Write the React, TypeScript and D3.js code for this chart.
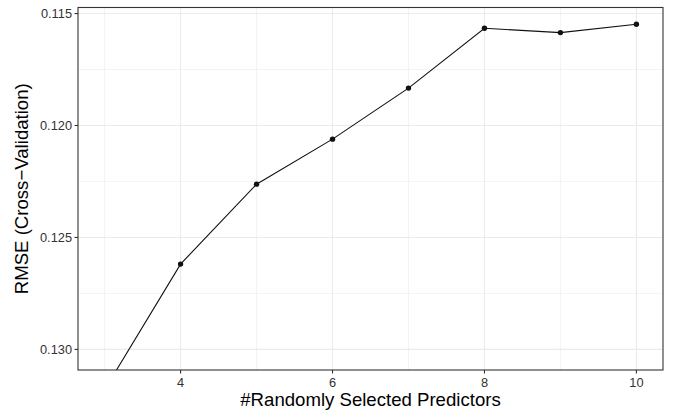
import React from "react";
import * as d3 from "d3";

const predictors = [3, 4, 5, 6, 7, 8, 9, 10];
const rmse = [0.1318, 0.12619, 0.12262, 0.12061, 0.11833, 0.11566, 0.11585, 0.11548];
const xTicks = [4, 6, 8, 10];
const xMinor = [3, 5, 7, 9];
const yTicks = [0.115, 0.12, 0.125, 0.13];
const yMinor = [0.1175, 0.1225, 0.1275];

const W = 674;
const H = 413;
const M = { left: 78, right: 11, top: 7.5, bottom: 43 };
const FONT = "'Liberation Sans', Arial, Helvetica, sans-serif";

export default function App() {
  const pw = W - M.left - M.right;
  const ph = H - M.top - M.bottom;
  const x = d3.scaleLinear().domain([2.65, 10.35]).range([0, pw]);
  const y = d3.scaleLinear().domain([0.11473, 0.13092]).range([0, ph]);
  const line = d3
    .line<number>()
    .x((_, i) => x(predictors[i]))
    .y((d) => y(d));

  return (
    <svg
      width={W}
      height={H}
      style={{ position: "absolute", left: 0, top: 0, background: "#fff" }}
      fontFamily={FONT}
    >
      <defs>
        <clipPath id="panel">
          <rect x={0} y={0} width={pw} height={ph} />
        </clipPath>
      </defs>
      <g transform={`translate(${M.left},${M.top})`}>
        {yMinor.map((v) => (
          <line key={"ym" + v} x1={0} x2={pw} y1={y(v)} y2={y(v)} stroke="#EBEBEB" strokeWidth={0.6} />
        ))}
        {xMinor.map((v) => (
          <line key={"xm" + v} x1={x(v)} x2={x(v)} y1={0} y2={ph} stroke="#EBEBEB" strokeWidth={0.6} />
        ))}
        {yTicks.map((v) => (
          <line key={"yM" + v} x1={0} x2={pw} y1={y(v)} y2={y(v)} stroke="#EBEBEB" strokeWidth={1.1} />
        ))}
        {xTicks.map((v) => (
          <line key={"xM" + v} x1={x(v)} x2={x(v)} y1={0} y2={ph} stroke="#EBEBEB" strokeWidth={1.1} />
        ))}
        <g clipPath="url(#panel)">
          <path d={line(rmse) || ""} fill="none" stroke="#111" strokeWidth={1.1} />
          {rmse.map((v, i) => (
            <circle key={i} cx={x(predictors[i])} cy={y(v)} r={2.7} fill="#111" />
          ))}
        </g>
        <rect x={0} y={0} width={pw} height={ph} fill="none" stroke="#333" strokeWidth={1.1} />
        {yTicks.map((v) => (
          <g key={"yt" + v} transform={`translate(0,${y(v)})`}>
            <line x1={-3.5} x2={0} stroke="#333" strokeWidth={1.1} />
            <text x={-6} dy="0.35em" textAnchor="end" fontSize={12.8} fill="#333">
              {d3.format(".3f")(v)}
            </text>
          </g>
        ))}
        {xTicks.map((v) => (
          <g key={"xt" + v} transform={`translate(${x(v)},${ph})`}>
            <line y1={0} y2={3.5} stroke="#333" strokeWidth={1.1} />
            <text y={17} textAnchor="middle" fontSize={12.8} fill="#333">
              {v}
            </text>
          </g>
        ))}
        <text x={pw / 2} y={ph + 35.5} textAnchor="middle" fontSize={18.6} fill="#000">
          #Randomly Selected Predictors
        </text>
        <text
          transform={`translate(${-50},${ph / 2}) rotate(-90)`}
          textAnchor="middle"
          fontSize={18.6}
          fill="#000"
        >
          RMSE (Cross−Validation)
        </text>
      </g>
    </svg>
  );
}
